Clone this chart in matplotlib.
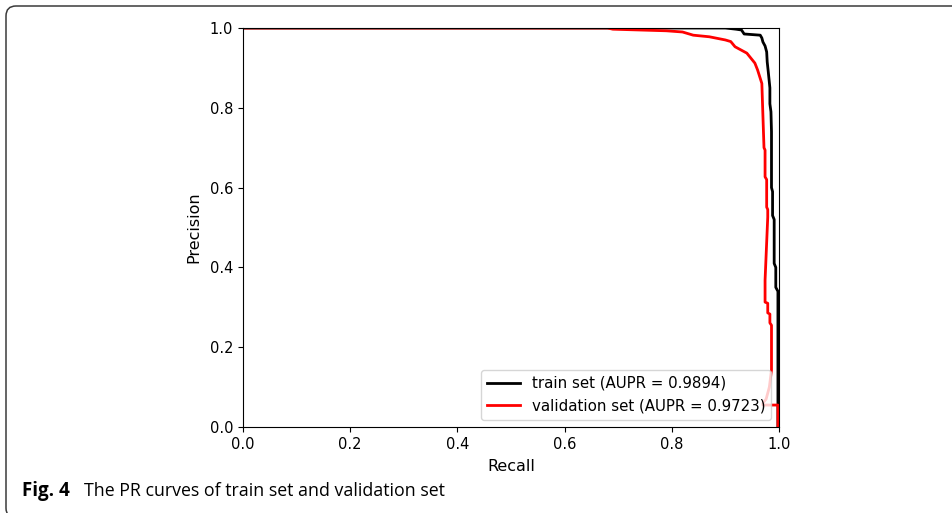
import matplotlib
matplotlib.use("Agg")
import matplotlib.pyplot as plt
from matplotlib.patches import FancyBboxPatch
from matplotlib.transforms import IdentityTransform

# PR curve vertices (recall, precision)
train_recall = [0.0, 0.90, 0.92, 0.93, 0.935, 0.965, 0.968, 0.970, 0.974, 0.977, 0.978,
                0.980, 0.983, 0.983, 0.985, 0.986, 0.986, 0.988, 0.988, 0.991, 0.991,
                0.994, 0.994, 0.998, 0.998]
train_precision = [1.0, 1.0, 0.997, 0.995, 0.985, 0.982, 0.975, 0.965, 0.955, 0.94, 0.915,
                   0.89, 0.85, 0.81, 0.79, 0.74, 0.60, 0.59, 0.53, 0.52, 0.41,
                   0.40, 0.35, 0.34, 0.0]

val_recall = [0.0, 0.68, 0.69, 0.79, 0.82, 0.84, 0.87, 0.90, 0.91, 0.918, 0.94, 0.955,
              0.96, 0.968, 0.970, 0.972, 0.974, 0.974, 0.977, 0.977, 0.979, 0.979,
              0.974, 0.974, 0.979, 0.979, 0.983, 0.983, 0.986, 0.986, 0.982, 0.976,
              0.970, 0.970, 0.998, 0.998]
val_precision = [1.0, 1.0, 0.997, 0.993, 0.99, 0.982, 0.978, 0.97, 0.966, 0.953, 0.937, 0.912,
                 0.895, 0.861, 0.78, 0.70, 0.694, 0.627, 0.62, 0.551, 0.545, 0.526,
                 0.368, 0.313, 0.31, 0.286, 0.283, 0.261, 0.255, 0.143, 0.10, 0.07,
                 0.06, 0.055, 0.055, 0.0]

train_aupr = 0.9894
val_aupr = 0.9723
caption_bold = "Fig. 4"
caption_text = "The PR curves of train set and validation set"

W, H = 953, 513
fig = plt.figure(figsize=(W / 100, H / 100), dpi=100)

# journal frame, rounded corners, open past the right edge (pixel coords)
frame = FancyBboxPatch((6, -5), 1000, H - 6 + 5,
                       boxstyle="round,pad=0,rounding_size=10",
                       transform=IdentityTransform(), fill=False,
                       edgecolor="#3a3a3a", lw=1.1)
fig.patches.append(frame)

ax = fig.add_axes([243 / W, 1 - 427 / H, (779 - 243) / W, (427 - 28) / H])
ax.plot(train_recall, train_precision, color="black", lw=2,
        label=f"train set (AUPR = {train_aupr:.4f})")
ax.plot(val_recall, val_precision, color="red", lw=2,
        label=f"validation set (AUPR = {val_aupr:.4f})")
ax.set_xlim(0, 1)
ax.set_ylim(0, 1)
ax.set_xticks([0.0, 0.2, 0.4, 0.6, 0.8, 1.0])
ax.set_yticks([0.0, 0.2, 0.4, 0.6, 0.8, 1.0])
ax.tick_params(labelsize=10.5)
ax.set_xlabel("Recall", fontsize=11.5, labelpad=5)
ax.set_ylabel("Precision", fontsize=11.5, labelpad=6)
ax.legend(loc="lower right", fontsize=10.8, handlelength=2.2)

fig.text(22 / W, 1 - 496 / H, caption_bold, fontsize=13.5, fontweight="bold",
         family="Open Sans", va="baseline", ha="left")
fig.text(84 / W, 1 - 496 / H, caption_text, fontsize=12.8,
         family="Open Sans", va="baseline", ha="left")

fig.savefig("out.png", dpi=100)
